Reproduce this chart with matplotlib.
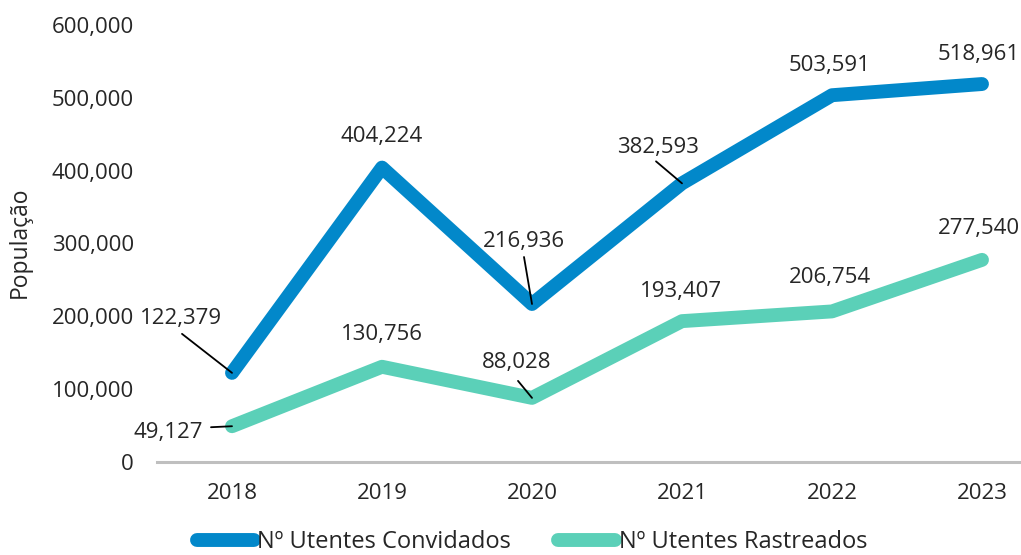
import matplotlib
matplotlib.use("Agg")
import matplotlib.pyplot as plt
from matplotlib.ticker import FuncFormatter

plt.rcParams['font.family'] = ['Open Sans', 'DejaVu Sans']

years = ['2018', '2019', '2020', '2021', '2022', '2023']
convidados = [122379, 404224, 216936, 382593, 503591, 518961]
rastreados = [49127, 130756, 88028, 193407, 206754, 277540]

# label offsets from the point, in pixels (dx right, dy down)
conv_label_off = [(-51, -54), (0, -31), (-8, -62), (-24, -36), (-2, -30), (-3, -30)]
rast_label_off = [(-64, 6), (0, -32), (-15, -35), (-1, -30), (-2, -34), (-3, -31)]
# leader line start, in pixels from the point (None = no leader)
conv_leader = [(-50, -39), None, (-8, -47), (-26, -22), None, None]
rast_leader = [(-21, 1), None, (-14, -17), None, None, None]

DPI = 100
BLUE = '#0288CA'
TEAL = '#5BD0B8'
TXT = '#262626'
FS = 16

fig = plt.figure(figsize=(10.21, 5.55), dpi=DPI)
ax = fig.add_axes([157 / 1021, 93 / 555, 900 / 1021, 437 / 555])

x = list(range(len(years)))
ax.plot(x, convidados, color=BLUE, lw=10, solid_capstyle='round', solid_joinstyle='round',
        label='Nº Utentes Convidados', zorder=3)
ax.plot(x, rastreados, color=TEAL, lw=10, solid_capstyle='round', solid_joinstyle='round',
        label='Nº Utentes Rastreados', zorder=3)


def px2pt(off):
    return (off[0] * 72 / DPI, -off[1] * 72 / DPI)


def add_labels(vals, offs, leaders):
    for i, v in enumerate(vals):
        ax.annotate('{:,}'.format(v), xy=(i, v), xytext=px2pt(offs[i]), textcoords='offset points',
                    ha='center', va='center', fontsize=FS, color=TXT, zorder=5)
        if leaders[i] is not None:
            ax.annotate('', xy=(i, v), xytext=px2pt(leaders[i]), textcoords='offset points',
                        arrowprops=dict(arrowstyle='-', color='black', lw=1.3, shrinkA=0, shrinkB=0),
                        zorder=4)


add_labels(convidados, conv_label_off, conv_leader)
add_labels(rastreados, rast_label_off, rast_leader)

ax.set_xlim(-0.5, 5.5)
ax.set_ylim(0, 600000)
ax.set_xticks(x)
ax.set_xticklabels(years)
ax.set_yticks(range(0, 600001, 100000))
ax.yaxis.set_major_formatter(FuncFormatter(lambda v, p: '{:,}'.format(int(v))))
ax.tick_params(axis='x', length=0, pad=15, labelsize=FS, labelcolor=TXT)
ax.tick_params(axis='y', length=0, pad=16.5, labelsize=FS, labelcolor=TXT)
for s in ['top', 'right', 'left']:
    ax.spines[s].set_visible(False)
ax.spines['bottom'].set_color('#BFBFBF')
ax.spines['bottom'].set_linewidth(2.2)
ax.set_facecolor('none')

fig.text(20 / 1021, 1 - 242 / 555, 'População', rotation=90, ha='center', va='center',
         fontsize=16.5, color=TXT)

leg = fig.legend(loc='center', bbox_to_anchor=(532 / 1021, 12.5 / 555), ncol=2, frameon=False,
                 fontsize=17, handlelength=2.4, handletextpad=0.15, columnspacing=2.0,
                 borderpad=0.2)
for t in leg.get_texts():
    t.set_color(TXT)

fig.savefig('out.png', dpi=DPI)
